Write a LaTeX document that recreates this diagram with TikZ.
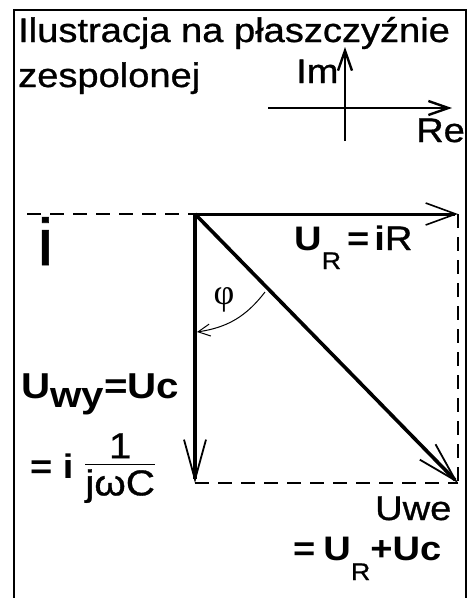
\documentclass[tikz,border=0pt]{standalone}
\usepackage{fontspec}
\setmainfont[FakeStretch=1.12, UprightFeatures={FakeBold=0.9}]{Liberation Sans}
\newfontfamily\phifont{Liberation Serif}
\usetikzlibrary{arrows.meta}

% lowered small subscript, as in U_R
\newcommand{\lowsub}[2][19pt]{\raisebox{-#1}{\fontsize{24}{24}\selectfont #2}}

\begin{document}
\begin{tikzpicture}[x=1pt, y=-1pt,
    txt/.style={inner sep=0pt, anchor=base west, font=\fontsize{34}{40}\selectfont},
    frame/.style={line width=1.4pt},
    helper/.style={line width=1.3pt, dash pattern=on 14pt off 9pt},
    axis/.style={line width=2.6pt, -{Straight Barb[length=20pt, width=14pt, line width=2.4pt]}},
    vec/.style={line width=3pt, -{Straight Barb[length=30pt, width=22pt, line width=1.6pt]}},
    longvec/.style={line width=3.6pt, -{Straight Barb[length=40pt, width=22pt, line width=1.8pt]}},
    angarc/.style={line width=1pt, -{Straight Barb[length=12pt, width=12pt, line width=1pt]}}]

  \useasboundingbox (0,0) rectangle (471,598);

  % ---- frame -----------------------------------------------------------------
  \draw[frame] (14,598) |- (466,10) -- (466,598);

  % ---- heading ---------------------------------------------------------------
  \node[txt] (head1) at (18,42) {Ilustracja na płaszczyźnie};
  \node[txt] (head2) at (18,87) {zespolonej};

  % ---- small complex plane ---------------------------------------------------
  \coordinate (reL) at (268,108);
  \coordinate (reR) at (452,108);
  \coordinate (imB) at (345,141);
  \coordinate (imT) at (345,47);
  \draw[axis] (reL) -- (reR);
  \draw[axis] (imB) -- (imT);
  \node[txt] (im) at (296,83) {Im};
  \node[txt] (re) at (416,142) {Re};

  % ---- phasor diagram --------------------------------------------------------
  \coordinate (O)  at (195,214);
  \coordinate (R)  at (458,214);
  \coordinate (C)  at (195,483);
  \coordinate (W)  at (458,483);
  \coordinate (iL) at (27,214);

  \draw[helper] (iL) -- (O);
  \draw[helper] (R) -- (W);
  \draw[helper] (C) -- (W);

  \draw[vec] (O) -- (R);
  \draw[longvec] (O) -- (C);
  \draw[longvec] (O) -- (W);

  % angle between U_we and U_C
  \coordinate (phs) at (265,292);
  \coordinate (phe) at (197,332);
  \draw[angarc] (phs) to[bend left=22] (phe);
  \node[txt, anchor=base, font=\fontsize{36}{40}\selectfont\phifont] (phi) at (224,304) {φ};

  % ---- labels ----------------------------------------------------------------
  \node[txt, font=\fontsize{66}{70}\selectfont] (cur) at (37,265) {i};
  \node[txt] (ur) at (294,250)
    {\textbf{U}\lowsub{R}\hspace{6pt}\textbf{=}\hspace{5pt}\textbf{i}R};
  \node[txt, font=\fontsize{36}{40}\selectfont\bfseries] (uwy) at (21,398)
    {U\raisebox{-9pt}{wy}=Uc};
  \node[txt, font=\fontsize{34}{38}\selectfont\bfseries] (eqi) at (30,478) {= i};
  \node[txt, font=\fontsize{36}{40}\selectfont] (frac) at (84,470)
    {$\frac{\mbox{\raisebox{2pt}{1}}}{\mbox{\rule{0pt}{31pt}jωC}}$};
  \node[txt] (uwe) at (375,520) {Uwe};
  \node[txt] (usum) at (293,560)
    {\textbf{=}\hspace{8pt}\textbf{U}\lowsub[20pt]{R}\textbf{+}\textbf{Uc}};
\end{tikzpicture}
\end{document}
